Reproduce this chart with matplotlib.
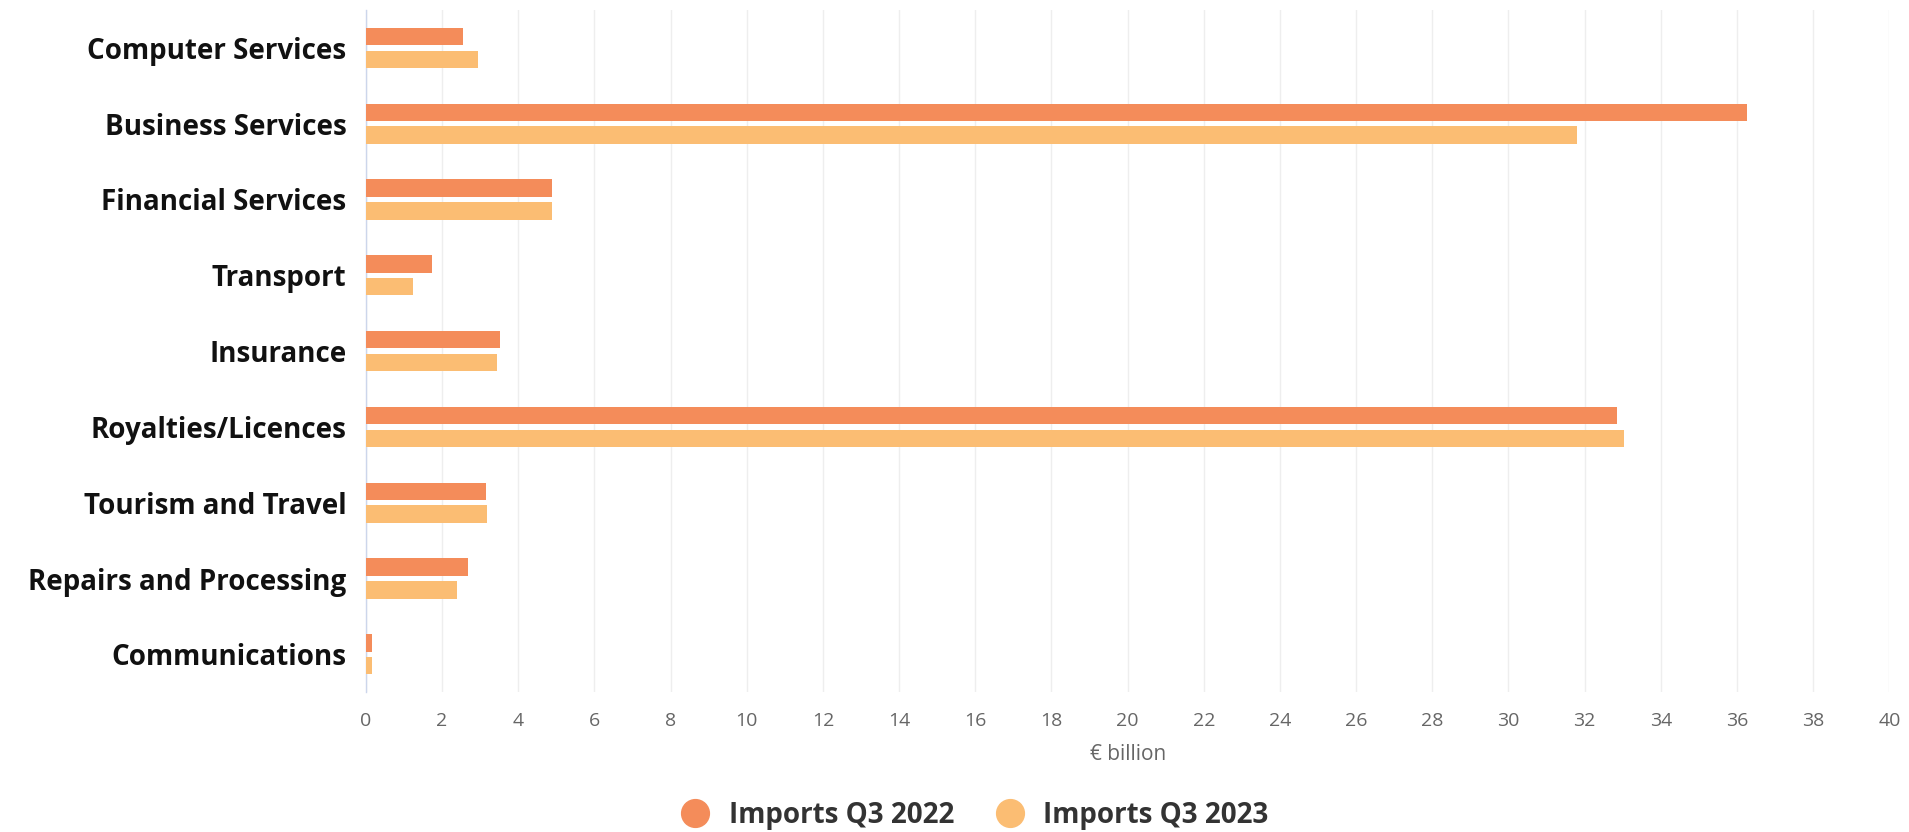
import matplotlib as mpl
import matplotlib.pyplot as plt
from matplotlib.lines import Line2D
import numpy as np

mpl.rcParams.update({
    "font.family": ["Open Sans", "DejaVu Sans"],
    "font.size": 11,
})

# data (€ billion)
categories = [
    "Computer Services", "Business Services", "Financial Services",
    "Transport", "Insurance", "Royalties/Licences",
    "Tourism and Travel", "Repairs and Processing", "Communications",
]
imports_q3_2022 = [2.56, 36.27, 4.88, 1.73, 3.51, 32.85, 3.14, 2.68, 0.15]
imports_q3_2023 = [2.93, 31.81, 4.88, 1.23, 3.43, 33.02, 3.19, 2.39, 0.15]
series_names = ["Imports Q3 2022", "Imports Q3 2023"]
x_ticks = list(range(0, 42, 2))

C_2022 = "#F48C5A"
C_2023 = "#FBBD73"

fig = plt.figure(figsize=(19.09, 8.32), dpi=100)
ax = fig.add_axes([0.1917, 0.168, 0.798, 0.820])

y = np.arange(len(categories))
h = 0.23
ax.barh(y - 0.15, imports_q3_2022, height=h, color=C_2022, zorder=3)
ax.barh(y + 0.15, imports_q3_2023, height=h, color=C_2023, zorder=3)

ax.set_ylim(len(categories) - 0.5, -0.5)
ax.set_yticks(y)
ax.set_yticklabels(categories, fontsize=20, fontweight="bold", color="#111111")
ax.tick_params(axis="y", length=0, pad=14)

ax.set_xlim(0, 40)
ax.set_xticks(x_ticks)
ax.tick_params(axis="x", length=0, pad=14, labelsize=14, labelcolor="#666666")
ax.set_xlabel("€ billion", fontsize=15, color="#666666", labelpad=10)

ax.grid(axis="x", color="#eeeeee", lw=1, zorder=0)
for s in ["top", "right", "bottom"]:
    ax.spines[s].set_visible(False)
ax.spines["left"].set_color("#ccd6eb")
ax.spines["left"].set_linewidth(1)

handles = [Line2D([], [], marker="o", ls="", markersize=20, color=c)
           for c in (C_2022, C_2023)]
fig.legend(handles, series_names, loc="center", bbox_to_anchor=(0.507, 0.02),
           ncol=2, frameon=False, handletextpad=0.2, columnspacing=1.0,
           prop={"size": 20, "weight": "bold"}, labelcolor="#333333")

fig.savefig("out.png", dpi=100)
